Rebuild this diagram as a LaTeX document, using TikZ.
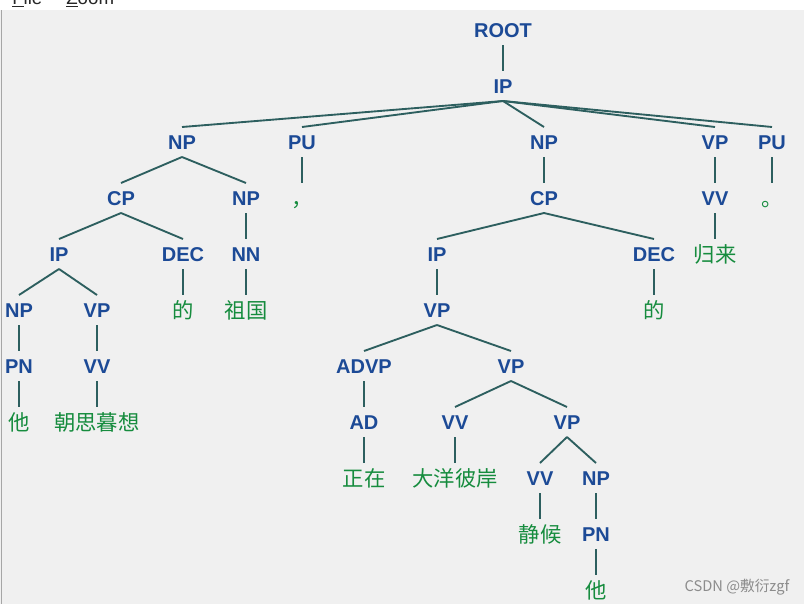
\documentclass[tikz,border=0pt]{standalone}
\usepackage{fontspec}
\setmainfont{Liberation Sans}
\newfontfamily\cjk{Noto Sans CJK SC}
\usetikzlibrary{calc}
\definecolor{lab}{RGB}{28,74,150}
\definecolor{leafc}{RGB}{22,140,62}
\definecolor{edgec}{RGB}{45,95,95}
\definecolor{bgc}{RGB}{240,240,240}
\definecolor{wmc}{RGB}{140,140,140}
\newcommand\treelink[2]{\draw[treeline] ($(#1)+(0,15)$) -- ($(#2)+(0,-15)$);}
\begin{document}
\begin{tikzpicture}[x=0.75pt,y=-0.75pt,
  cat/.style={inner sep=0pt, text=lab, font=\fontsize{15}{15}\selectfont\bfseries, text height=10.74pt, text depth=0pt},
  word/.style={inner sep=0pt, text=leafc, font=\cjk\fontsize{16}{16}\selectfont, text height=13pt, text depth=1pt},
  treeline/.style={draw=edgec, line width=1.4pt}]
\useasboundingbox (0,0) rectangle (804,604);
\fill[white] (0,0) rectangle (804,10);
\fill[bgc] (0,10) rectangle (804,604);
\draw[gray!70, line width=0.75pt] (1.5,10) -- (1.5,604);
\begin{scope}
  \clip (0,0) rectangle (804,9);
  \node[anchor=base west, inner sep=0pt, font=\fontsize{14}{14}\selectfont, text=black!85] (menu) at (12,4) {\underline{F}ile\hspace{18pt}\underline{Z}oom};
\end{scope}
% categories
\node[cat] (root) at (503,30) {ROOT};
\node[cat] (ip) at (503,86) {IP};
\node[cat] (np1) at (182,142) {NP};
\node[cat] (pu1) at (302,142) {PU};
\node[cat] (np2) at (544,142) {NP};
\node[cat] (vp1) at (715,142) {VP};
\node[cat] (pu2) at (772,142) {PU};
\node[cat] (cp1) at (121,198) {CP};
\node[cat] (np3) at (246,198) {NP};
\node[word] (comma) at (302,198) {，};
\node[cat] (cp2) at (544,198) {CP};
\node[cat] (vv1) at (715,198) {VV};
\node[word] (period) at (772,198) {。};
\node[cat] (ip2) at (59,254) {IP};
\node[cat] (dec1) at (183,254) {DEC};
\node[cat] (nn) at (246,254) {NN};
\node[cat] (ip3) at (437,254) {IP};
\node[cat] (dec2) at (654,254) {DEC};
\node[word] (guilai) at (715,254) {归来};
\node[cat] (np4) at (19,310) {NP};
\node[cat] (vp2) at (97,310) {VP};
\node[word] (de1) at (183,310) {的};
\node[word] (zuguo) at (246,310) {祖国};
\node[cat] (vp3) at (437,310) {VP};
\node[word] (de2) at (654,310) {的};
\node[cat] (pn1) at (19,366) {PN};
\node[cat] (vv2) at (97,366) {VV};
\node[cat] (advp) at (364,366) {ADVP};
\node[cat] (vp4) at (511,366) {VP};
\node[word] (ta1) at (19,422) {他};
\node[word] (zhaosi) at (97,422) {朝思暮想};
\node[cat] (ad) at (364,422) {AD};
\node[cat] (vv3) at (455,422) {VV};
\node[cat] (vp5) at (567,422) {VP};
\node[word] (zhengzai) at (364,478) {正在};
\node[word] (dayang) at (455,478) {大洋彼岸};
\node[cat] (vv4) at (540,478) {VV};
\node[cat] (np5) at (596,478) {NP};
\node[word] (jinghou) at (540,534) {静候};
\node[cat] (pn2) at (596,534) {PN};
\node[word] (ta2) at (596,590) {他};
% connectors
\treelink{root}{ip}
\treelink{ip}{np1}
\treelink{ip}{pu1}
\treelink{ip}{np2}
\treelink{ip}{vp1}
\treelink{ip}{pu2}
\treelink{np1}{cp1}
\treelink{np1}{np3}
\treelink{pu1}{comma}
\treelink{np2}{cp2}
\treelink{vp1}{vv1}
\treelink{pu2}{period}
\treelink{cp1}{ip2}
\treelink{cp1}{dec1}
\treelink{np3}{nn}
\treelink{cp2}{ip3}
\treelink{cp2}{dec2}
\treelink{vv1}{guilai}
\treelink{ip2}{np4}
\treelink{ip2}{vp2}
\treelink{dec1}{de1}
\treelink{nn}{zuguo}
\treelink{ip3}{vp3}
\treelink{dec2}{de2}
\treelink{np4}{pn1}
\treelink{vp2}{vv2}
\treelink{vp3}{advp}
\treelink{vp3}{vp4}
\treelink{pn1}{ta1}
\treelink{vv2}{zhaosi}
\treelink{advp}{ad}
\treelink{vp4}{vv3}
\treelink{vp4}{vp5}
\treelink{ad}{zhengzai}
\treelink{vv3}{dayang}
\treelink{vp5}{vv4}
\treelink{vp5}{np5}
\treelink{vv4}{jinghou}
\treelink{np5}{pn2}
\treelink{pn2}{ta2}
% watermark
\node[inner sep=0pt, text=wmc, font=\cjk\fontsize{11}{11}\selectfont] (wm) at (737,587) {CSDN @敷衍zgf};
\end{tikzpicture}
\end{document}
